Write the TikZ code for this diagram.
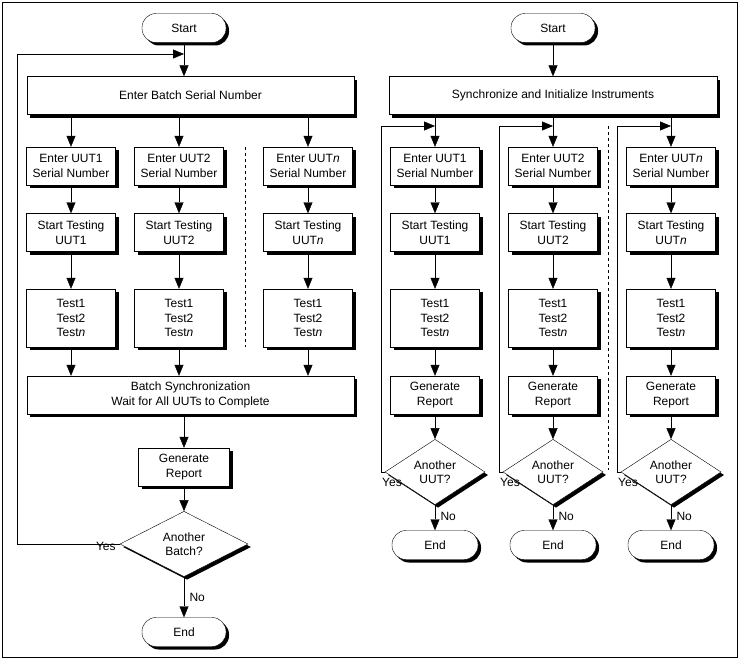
\documentclass[tikz,border=0pt]{standalone}
\usepackage{fontspec}
\setmainfont{Liberation Sans}
\usetikzlibrary{arrows.meta,shapes.geometric,shadows}

\begin{document}
\begin{tikzpicture}[x=1pt,y=-1pt,
  font=\fontsize{12}{14.5}\selectfont,
  shade/.style={drop shadow={shadow xshift=3pt,shadow yshift=-3pt,opacity=1,fill=black}},
  term/.style={draw,fill=white,shade,rounded corners=14pt,minimum width=84pt,minimum height=29pt,inner sep=0pt},
  box/.style={draw,fill=white,shade,align=center,minimum width=89pt,minimum height=38pt,inner sep=0pt},
  wide/.style={box,minimum width=327pt},
  decide/.style={draw,fill=white,shade,diamond,align=center,inner sep=0pt},
  arr/.style={-{Triangle[width=9pt,length=11pt]}},
  sep/.style={dashed}]
\useasboundingbox (0,0) rectangle (741,661);
\draw (2,2) rectangle (737,657);

%% left chart: batch model
\node[term] (startL) at (184,28) {Start};
\node[wide] (batch) at (190.5,95.5) {Enter Batch Serial Number};
\coordinate (mergeL) at (184,54);
\coordinate (loopL) at (17,54);
\node[box] (s1) at (71,166) {Enter UUT1\\Serial Number};
\node[box] (s2) at (179,166) {Enter UUT2\\Serial Number};
\node[box] (s3) at (308,166) {Enter UUT\textit{n}\\Serial Number};
\node[box] (u1) at (71,232.5) {Start Testing\\UUT1};
\node[box] (u2) at (179,232.5) {Start Testing\\UUT2};
\node[box] (u3) at (308,232.5) {Start Testing\\UUT\textit{n}};
\node[box,minimum height=58pt] (t1) at (71,318) {Test1\\Test2\\Test\textit{n}};
\node[box,minimum height=58pt] (t2) at (179,318) {Test1\\Test2\\Test\textit{n}};
\node[box,minimum height=58pt] (t3) at (308,318) {Test1\\Test2\\Test\textit{n}};
\node[wide] (sync) at (190.5,395) {Batch Synchronization\\Wait for All UUTs to Complete};
\node[box,minimum width=91pt] (repL) at (184,467) {Generate\\Report};
\node[decide,minimum width=128pt,minimum height=62pt] (askL) at (184,544) {Another\\Batch?};
\node[term] (endL) at (184,632) {End};
\draw[sep] (245,147) -- (245,347);

\draw[arr] (startL) -- (batch.north -| startL);
\draw[arr] (batch.south -| s1) -- (s1);
\draw[arr] (batch.south -| s2) -- (s2);
\draw[arr] (batch.south -| s3) -- (s3);
\foreach \i in {1,2,3} {
  \draw[arr] (s\i) -- (u\i);
  \draw[arr] (u\i) -- (t\i);
  \draw[arr] (t\i) -- (t\i |- sync.north);
}
\draw[arr] (sync.south -| repL) -- (repL);
\draw[arr] (repL) -- (askL);
\draw[arr] (askL) -- (endL) node[pos=0.5,right=2pt] {No};
\draw[arr] (askL.west) -| (loopL) -- (mergeL);
\node[anchor=east,inner sep=1pt,yshift=-2pt] (yesL) at ([xshift=-3pt]askL.west) {Yes};

%% right chart: parallel model
\node[term] (startR) at (553,28) {Start};
\node[wide,minimum width=328pt] (init) at (553,95.5) {Synchronize and Initialize Instruments};
\draw[arr] (startR) -- (init);
\foreach \i/\x in {1/435,2/553,3/671} {
  \coordinate (merge\i) at (\x,126);
  \coordinate (loop\i) at (\x-54,126);
  \node[box] (sr\i) at (\x,166) {Enter UUT\ifnum\i=3 \textit{n}\else\i\fi\\Serial Number};
  \node[box] (ur\i) at (\x,232.5) {Start Testing\\UUT\ifnum\i=3 \textit{n}\else\i\fi};
  \node[box,minimum height=58pt] (tr\i) at (\x,318) {Test1\\Test2\\Test\textit{n}};
  \node[box] (rr\i) at (\x,395) {Generate\\Report};
  \node[decide,minimum width=100pt,minimum height=48pt] (ar\i) at (\x,472) {Another\\UUT?};
  \node[term,minimum width=86pt] (er\i) at (\x,545) {End};
  \draw[arr] (init.south -| sr\i) -- (sr\i);
  \draw[arr] (sr\i) -- (ur\i);
  \draw[arr] (ur\i) -- (tr\i);
  \draw[arr] (tr\i) -- (rr\i);
  \draw[arr] (rr\i) -- (ar\i);
  \draw[arr] (ar\i) -- (er\i) node[pos=0.45,right=2pt] {No};
  \draw[arr] (ar\i.west) -| (loop\i) -- (merge\i);
  \node[anchor=north west,inner sep=1pt] (yes\i) at ([yshift=-5pt]loop\i |- ar\i.west) {Yes};
}
\draw[sep] (608,126) -- (608,470);
\end{tikzpicture}
\end{document}
